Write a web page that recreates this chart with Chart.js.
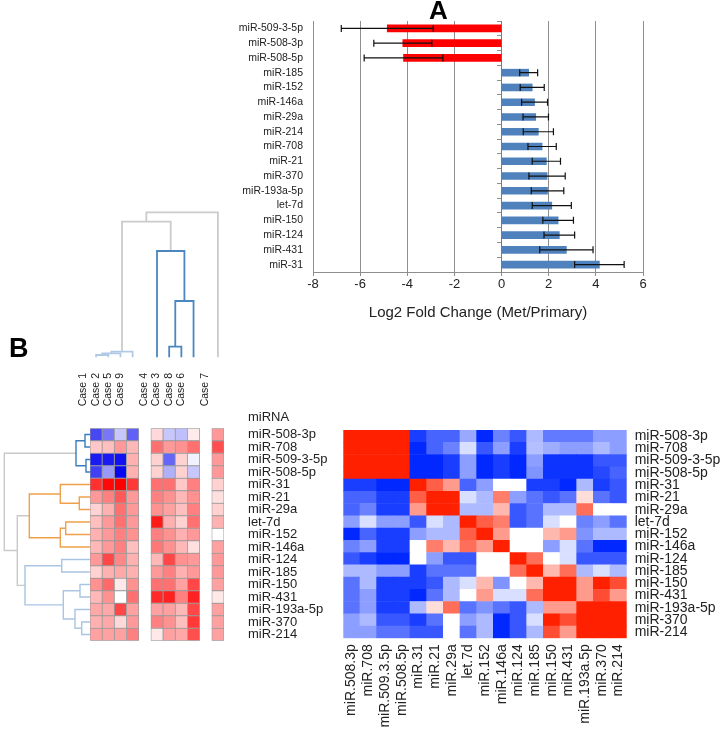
<!DOCTYPE html>
<html><head><meta charset="utf-8">
<script src="https://cdn.jsdelivr.net/npm/chart.js@4.4.1/dist/chart.umd.min.js"></script>
<style>
html,body{margin:0;padding:0;background:#fff;}
#wrap{position:relative;width:726px;height:735px;overflow:hidden;background:#fff;}
.box{position:absolute;}
.lbl{position:absolute;font-family:"Liberation Sans",Arial,sans-serif;color:#000;white-space:nowrap;line-height:1;}
canvas{display:block;}
</style></head><body>
<div id="wrap">
  <div class="box" style="left:230px;top:0;"><canvas id="cA" width="430" height="330"></canvas></div>
  <div class="box" style="left:0;top:200px;"><canvas id="cColDen" width="240" height="170"></canvas></div>
  <div class="box" style="left:0;top:420px;"><canvas id="cRowDen" width="100" height="230"></canvas></div>
  <div class="box" style="left:0;top:360px;"><canvas id="cHeatL" width="340" height="290"></canvas></div>
  <div class="box" style="left:330px;top:400px;"><canvas id="cHeatR" width="396" height="335"></canvas></div>
  <div class="lbl" style="left:429px;top:-3px;font-size:26px;font-weight:bold;">A</div>
  <div class="lbl" style="left:9px;top:335px;font-size:27px;font-weight:bold;">B</div>
  <div class="lbl" style="left:248px;top:410px;font-size:13px;color:#222;">miRNA</div>
</div>
<script>
// ---------------- DATA ----------------
// Panel A: log2 fold change (Met/Primary) with error
const fcCategories = ['miR-509-3-5p','miR-508-3p','miR-508-5p','miR-185','miR-152','miR-146a','miR-29a','miR-214','miR-708','miR-21','miR-370','miR-193a-5p','let-7d','miR-150','miR-124','miR-431','miR-31'];
const fcValues = [-4.85,-4.19,-4.16,1.15,1.30,1.40,1.45,1.56,1.72,1.90,1.93,1.95,2.13,2.40,2.45,2.75,4.15];
const fcErrors = [1.95,1.23,1.67,0.38,0.51,0.55,0.54,0.64,0.60,0.60,0.77,0.69,0.83,0.65,0.65,1.13,1.05];
const fcTicks = [-8,-6,-4,-2,0,2,4,6];

// Panel B: left heatmap (cases in dendrogram order)
const caseLabels = ['Case 1','Case 2','Case 5','Case 9','','Case 4','Case 3','Case 8','Case 6',' ','Case 7'];
const caseOrder = ['Case 1','Case 2','Case 5','Case 9','Case 4','Case 3','Case 8','Case 6','Case 7'];
const mirnaRows = ['miR-508-3p','miR-708','miR-509-3-5p','miR-508-5p','miR-31','miR-21','miR-29a','let-7d','miR-152','miR-146a','miR-124','miR-185','miR-150','miR-431','miR-193a-5p','miR-370','miR-214'];
const caseValues = [
  [-0.72,-0.53,-0.22,-0.62, 0.15,-0.22,-0.25, 0.08, 0.40],
  [ 0.22, 0.25, 0.40, 0.28, 0.56, 0.40, 0.43, 0.56, 0.69],
  [-0.90,-0.90,-0.93, 0.31, 0.18,-0.60, 0.18,-0.05, 0.40],
  [-0.75,-0.40,-0.97, 0.31, 0.18,-0.31, 0.18,-0.22, 0.40],
  [ 0.81, 0.97, 1.00, 0.78, 0.56, 0.56, 0.22, 0.50, 0.18],
  [ 0.40, 0.50, 0.65, 0.40, 0.50, 0.43, 0.28, 0.43, 0.12],
  [ 0.18, 0.31, 0.56, 0.40, 0.43, 0.37, 0.25, 0.50, 0.18],
  [ 0.25, 0.40, 0.56, 0.40, 0.90, 0.31, 0.18, 0.56, 0.31],
  [ 0.31, 0.40, 0.50, 0.43, 0.50, 0.43, 0.31, 0.40, 0.00],
  [ 0.28, 0.40, 0.50, 0.25, 0.53, 0.43, 0.28, 0.12, 0.37],
  [ 0.40, 0.72, 0.47, 0.31, 0.28, 0.72, 0.43, 0.40, 0.40],
  [ 0.18, 0.31, 0.34, 0.31, 0.40, 0.50, 0.31, 0.40, 0.40],
  [ 0.43, 0.59, 0.09, 0.43, 0.56, 0.56, 0.37, 0.72, 0.37],
  [ 0.28, 0.43, 0.00, 0.56, 0.84, 0.87, 0.50, 0.87, 0.09],
  [ 0.34, 0.34, 0.72, 0.37, 0.37, 0.37, 0.28, 0.72, 0.37],
  [ 0.31, 0.34, 0.15, 0.40, 0.50, 0.43, 0.25, 0.78, 0.37],
  [ 0.37, 0.37, 0.37, 0.50, 0.09, 0.37, 0.34, 0.69, 0.37]
];

// Column dendrogram: [childA, childB, height] (child = leaf name or merge index)
const caseMerges = [
  ['Case 1','Case 2',2.3],[0,'Case 5',4.0],[1,'Case 9',5.6],
  ['Case 3','Case 8',10.6],[3,'Case 6',56.3],['Case 4',4,106.3],
  [2,5,135.6],[6,'Case 7',145]
];
const caseMergeGroups = ['lb','lb','lb','b','b','b','g','g'];

// Row dendrogram
const mirnaMerges = [
  ['miR-508-3p','miR-708',5],['miR-509-3-5p','miR-508-5p',4],[0,1,14],
  ['miR-21','miR-29a',10.7],['miR-31',3,29.7],['let-7d','miR-152',24.3],[5,'miR-146a',29.7],[4,6,60.7],
  ['miR-124','miR-185',28.3],['miR-150','miR-431',10],['miR-370','miR-214',8.3],['miR-193a-5p',10,15],[9,11,26.7],[8,12,65],
  [7,13,72.7],[2,14,85.7]
];
const mirnaMergeGroups = ['b','b','b','o','o','o','o','o','lb','lb','lb','lb','lb','lb','g','g'];

// Right heatmap: miRNA correlation
const corColLabels = ['miR.508.3p','miR.708','miR.509.3.5p','miR.508.5p','miR.31','miR.21','miR.29a','let.7d','miR.152','miR.146a','miR.124','miR.185','miR.150','miR.431','miR.193a.5p','miR.370','miR.214'];
const corValues = [
  [1,1,1,1,-0.90,-0.72,-0.72,-0.40,-1.00,-0.58,-0.78,-0.32,-0.62,-0.62,-0.62,-0.45,-0.45],
  [1,1,1,1,-1.00,-0.72,-0.58,-0.15,-0.78,-0.45,-0.90,-0.30,-0.38,-0.45,-0.45,-0.32,-0.45],
  [1,1,1,1,-1.00,-1.00,-0.90,-0.45,-1.00,-0.90,-1.00,-0.45,-0.95,-0.95,-0.95,-0.78,-0.78],
  [1,1,1,1,-1.00,-1.00,-0.90,-0.45,-1.00,-0.90,-1.00,-0.50,-0.95,-0.95,-0.95,-0.85,-0.72],
  [-0.90,-0.90,-1.00,-1.00,1.00,0.72,0.45,-0.72,-0.45,0.00,0.00,-0.90,-0.90,-1.00,-0.32,-0.90,-0.78],
  [-0.72,-0.72,-0.90,-0.90,0.72,1.00,1.00,-0.15,-0.32,0.58,-0.45,-0.65,-0.78,-0.65,0.15,-0.65,-0.78],
  [-0.72,-0.58,-0.90,-0.90,0.45,1.00,1.00,-0.32,-0.32,0.32,-0.78,-0.65,-0.32,-0.32,0.65,0.00,0.00],
  [-0.45,-0.15,-0.45,-0.45,-0.78,-0.15,-0.32,1.00,0.72,0.58,-0.78,-0.65,-0.15,0.00,-0.58,-0.45,-0.65],
  [-1.00,-0.72,-0.90,-0.90,-0.45,-0.32,-0.32,0.72,1.00,0.45,0.00,0.00,0.32,0.45,-0.50,-0.32,-0.32],
  [-0.58,-0.45,-0.90,-0.90,0.00,0.58,0.32,0.65,0.45,1.00,0.00,0.00,-0.45,-0.15,-0.65,-1.00,-1.00],
  [-0.78,-0.90,-1.00,-1.00,0.00,-0.45,-0.78,-0.78,0.00,0.00,1.00,0.65,0.00,-0.15,-0.78,-0.78,-0.78],
  [-0.32,-0.32,-0.45,-0.45,-0.90,-0.65,-0.65,-0.65,0.00,0.00,0.65,1.00,0.32,0.65,-0.32,-0.15,-0.32],
  [-0.65,-0.32,-0.90,-0.90,-0.90,-0.78,-0.32,-0.15,0.32,-0.50,0.00,0.32,1.00,1.00,0.45,1.00,0.80],
  [-0.65,-0.45,-0.90,-0.90,-1.00,-0.65,-0.32,0.00,0.45,-0.15,-0.15,0.65,1.00,1.00,0.45,0.80,0.45],
  [-0.65,-0.45,-0.90,-0.90,-0.32,0.15,0.65,-0.65,-0.50,-0.65,-0.78,-0.32,0.45,0.45,1.00,1.00,1.00],
  [-0.45,-0.32,-0.78,-0.78,-0.90,-0.65,0.00,-0.45,-0.32,-1.00,-0.78,-0.15,1.00,0.80,1.00,1.00,1.00],
  [-0.45,-0.45,-0.65,-0.65,-0.78,-0.78,0.00,-0.65,-0.32,-1.00,-0.78,-0.32,0.80,0.45,1.00,1.00,1.00]
];

// ---------------- STYLE / HELPERS ----------------
const FAM = '"Liberation Sans", Arial, sans-serif';
Chart.defaults.font.family = FAM;
Chart.defaults.animation = false;
const WHITE = [255,255,255];
function mix(a,b,t){ t=Math.max(0,Math.min(1,t)); return 'rgb('+a.map((v,i)=>Math.round(v+(b[i]-v)*t)).join(',')+')'; }
function leftColor(v){ return v>=0 ? mix(WHITE,[255,0,0],v) : mix(WHITE,[0,0,240],-v); }
function rightColor(v){ return v>=0 ? mix(WHITE,[255,32,0],v) : mix(WHITE,[0,40,255],-v); }
const noPlug = { legend:{display:false}, tooltip:{enabled:false} };

// ---------------- PANEL A ----------------
const errorBarPlugin = {
  id:'errorBars',
  afterDatasetsDraw(chart){
    const ctx = chart.ctx, xs = chart.scales.x;
    chart.data.datasets.forEach((ds,di)=>{
      if(!ds.errors) return;
      chart.getDatasetMeta(di).data.forEach((bar,i)=>{
        const v = ds.data[i], e = ds.errors[i];
        const x1 = xs.getPixelForValue(v-e), x2 = xs.getPixelForValue(v+e), y = bar.y;
        ctx.save(); ctx.strokeStyle='#111'; ctx.lineWidth=1.2;
        ctx.beginPath();
        ctx.moveTo(x1,y); ctx.lineTo(x2,y);
        ctx.moveTo(x1,y-3.5); ctx.lineTo(x1,y+3.5);
        ctx.moveTo(x2,y-3.5); ctx.lineTo(x2,y+3.5);
        ctx.stroke(); ctx.restore();
      });
    });
  }
};
new Chart(document.getElementById('cA'), {
  type:'bar',
  data:{ labels: fcCategories, datasets:[{ data: fcValues, errors: fcErrors,
    backgroundColor: fcValues.map(v=> v<0 ? '#ff0000' : '#4f81bd'), barThickness:7 }]},
  options:{
    responsive:false, indexAxis:'y', plugins:noPlug,
    layout:{ padding:{ left:0, right:17, top:21, bottom:0 } },
    scales:{
      x:{ type:'linear', min:-8, max:6, afterBuildTicks:s=>{ s.ticks = fcTicks.map(v=>({value:v})); },
          ticks:{ color:'#222', font:{size:13}, padding:1 },
          grid:{ color:'#8e8e8e', tickLength:4 }, border:{ color:'#8e8e8e' },
          title:{ display:true, text:'Log2 Fold Change (Met/Primary)', color:'#222', font:{size:15}, padding:{top:2,bottom:8} },
          afterFit:s=>{ s.height = 58; } },
      y:{ type:'category', ticks:{ color:'#222', font:{size:10.5}, padding:10, autoSkip:false },
          grid:{ display:false, drawTicks:false }, border:{ display:false },
          afterFit:s=>{ s.width = 83; s.paddingTop = 0; s.paddingBottom = 0; } },
      y2:{ type:'category', axis:'y', labels: fcCategories, position:{x:0}, offset:true,
          grid:{ display:true, drawOnChartArea:false, drawTicks:true, tickLength:4, color:'#8e8e8e', offset:true },
          ticks:{ display:false }, border:{ display:true, color:'#7a7a7a' },
          afterFit:s=>{ s.width = 0; } }
    }
  },
  plugins:[errorBarPlugin]
});

// ---------------- DENDROGRAMS ----------------
function dendroDatasets(merges, groups, leafPos, colors, width, horizontal){
  const nodes = [];
  const pos = c => typeof c === 'number' ? nodes[c].p : leafPos(c);
  const hgt = c => typeof c === 'number' ? nodes[c].h : 0;
  return merges.map((m,i)=>{
    const pa = pos(m[0]), pb = pos(m[1]), ha = hgt(m[0]), hb = hgt(m[1]), h = m[2];
    nodes[i] = { p:(pa+pb)/2, h:h };
    const pts = [[pa,ha],[pa,h],[pb,h],[pb,hb]];
    return { data: pts.map(q => horizontal ? {x:q[1], y:q[0]} : {x:q[0], y:q[1]}),
      showLine:true, borderColor: colors[groups[i]], borderWidth: width, pointRadius:0,
      fill:false, tension:0, clip:false, borderCapStyle:'butt', borderJoinStyle:'miter' };
  });
}
new Chart(document.getElementById('cColDen'), {
  type:'scatter',
  data:{ datasets: dendroDatasets(caseMerges, caseMergeGroups, c => caseLabels.indexOf(c),
          { lb:'#b0c9e6', b:'#4a87c1', g:'#cbcbcb' }, 1.8, false) },
  options:{ responsive:false, plugins:noPlug,
    layout:{ padding:{ left:90, right:16, top:12.3, bottom:12.7 } },
    scales:{ x:{ type:'linear', min:-0.5, max:10.5, display:false },
             y:{ type:'linear', min:0, max:145, display:false } } }
});
new Chart(document.getElementById('cRowDen'), {
  type:'scatter',
  data:{ datasets: dendroDatasets(mirnaMerges, mirnaMergeGroups, c => mirnaRows.indexOf(c),
          { b:'#3b7dbd', o:'#f0a04a', lb:'#a9c5e3', g:'#c9c9c9' }, 1.4, true) },
  options:{ responsive:false, plugins:noPlug,
    layout:{ padding:{ left:0, right:10, top:8.3, bottom:9.2 } },
    scales:{ x:{ type:'linear', min:0, max:90, reverse:true, display:false },
             y:{ type:'linear', min:-0.5, max:16.5, reverse:true, display:false } } }
});

// ---------------- HEATMAPS ----------------
function heatmap(id, colLabels, colIndex, rowLabels, matrix, colorFn, o){
  const datasets = [];
  for(let r = rowLabels.length-1; r >= 0; r--){
    datasets.push({
      data: colLabels.map(()=>1),
      backgroundColor: colIndex.map(c => c<0 ? 'rgba(0,0,0,0)' : colorFn(matrix[r][c])),
      borderColor: colIndex.map(c => c<0 ? 'rgba(0,0,0,0)' : o.borderColor),
      borderWidth: o.borderWidth, borderSkipped:false,
      barPercentage:1, categoryPercentage:1, stack:'s'
    });
  }
  new Chart(document.getElementById(id), {
    type:'bar',
    data:{ labels: colLabels, datasets },
    options:{ responsive:false, plugins:noPlug, layout:{ padding:o.padding },
      scales:{
        x:{ type:'category', position:o.xPos, stacked:true, offset:true,
            grid:{ display:false, drawTicks:false }, border:{ display:false },
            ticks:{ autoSkip:false, minRotation:90, maxRotation:90, color:'#222', font:{size:o.xFont}, padding:o.xPad },
            afterFit:s=>{ s.height = o.xH; s.paddingLeft = 0; s.paddingRight = 0; } },
        y:{ type:'linear', stacked:true, min:0, max:rowLabels.length, display:false },
        yl:{ type:'category', axis:'y', labels: rowLabels, position:'right', offset:true,
            grid:{ display:false, drawTicks:false }, border:{ display:false },
            ticks:{ autoSkip:false, color:'#222', font:{size:o.yFont}, padding:o.yPad },
            afterFit:s=>{ s.width = o.yW; s.paddingTop = 0; s.paddingBottom = 0; } }
      } }
  });
}
heatmap('cHeatL', caseLabels, caseLabels.map(c => caseOrder.indexOf(c)), mirnaRows, caseValues, leftColor,
  { borderColor:'#9a9a9a', borderWidth:0.8, padding:{left:90, right:0, top:0, bottom:9.2},
    xPos:'top', xFont:10.5, xPad:22, xH:68.3, yFont:13, yPad:24, yW:116 });
heatmap('cHeatR', corColLabels, corColLabels.map((c,i)=>i), mirnaRows, corValues, rightColor,
  { borderColor:'rgba(0,0,0,0)', borderWidth:0, padding:{left:13.3, right:0, top:30, bottom:0},
    xPos:'bottom', xFont:14, xPad:6, xH:96.7, yFont:14, yPad:8, yW:99.3 });
</script>
</body></html>
